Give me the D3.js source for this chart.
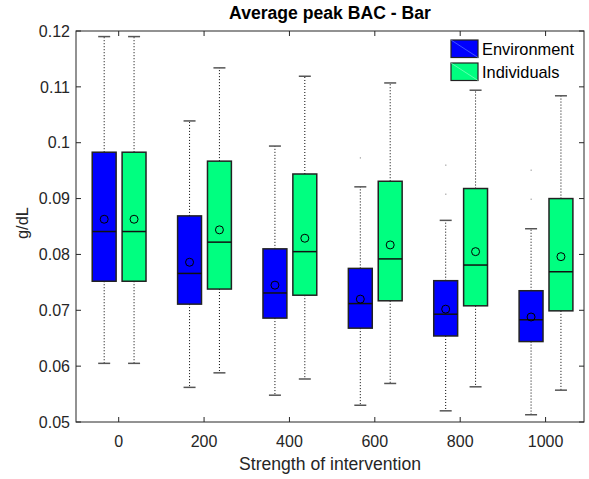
<!DOCTYPE html>
<html>
<head>
<meta charset="utf-8">
<script src="https://cdn.jsdelivr.net/npm/d3@7"></script>
<style>
  body { margin: 0; background: #fff; }
  text { font-family: "Liberation Sans", Arial, sans-serif; }
</style>
</head>
<body>
<svg id="chart" width="589" height="479"></svg>
<script>
// strength of intervention
const strengths = [0, 200, 400, 600, 800, 1000];
const seriesNames = ["Environment", "Individuals"];
const seriesColors = ["#0000ff", "#00ff80"];

// box stats per strength: [lowWhisker, q1, median, q3, highWhisker]
const envStats = [
  [0.0605, 0.0752, 0.0841, 0.0983, 0.1190],
  [0.0562, 0.0711, 0.0766, 0.0869, 0.1039],
  [0.0548, 0.0686, 0.0731, 0.0810, 0.0994],
  [0.0530, 0.0668, 0.0712, 0.0775, 0.0921],
  [0.0520, 0.0654, 0.0693, 0.0753, 0.0861],
  [0.0513, 0.0644, 0.0683, 0.0735, 0.0846]
];
const indStats = [
  [0.0605, 0.0752, 0.0841, 0.0983, 0.1190],
  [0.0588, 0.0738, 0.0822, 0.0967, 0.1134],
  [0.0577, 0.0727, 0.0805, 0.0944, 0.1119],
  [0.0569, 0.0717, 0.0792, 0.0931, 0.1107],
  [0.0563, 0.0708, 0.0781, 0.0918, 0.1094],
  [0.0557, 0.0699, 0.0769, 0.0900, 0.1084]
];
const envMeans = [0.0863, 0.0786, 0.0745, 0.0720, 0.0702, 0.0688];
const indMeans = [0.0863, 0.0844, 0.0829, 0.0817, 0.0805, 0.0796];
const envOutliers = [[], [], [], [0.0973], [0.0960, 0.0908], [0.0951, 0.0899]];
const indOutliers = [[], [], [], [], [], []];

const yTicks = [0.05, 0.06, 0.07, 0.08, 0.09, 0.1, 0.11, 0.12];

const svg = d3.select("#chart");
const mLeft = 76, mRight = 584, mTop = 31, mBottom = 422;
const axisColor = "#262626";

const x = d3.scaleLinear().domain([-100, 1090]).range([mLeft, mRight]);
const y = d3.scaleLinear().domain([0.05, 0.12]).range([mBottom, mTop]);

const groups = [
  { name: seriesNames[0], color: seriesColors[0], stats: envStats, means: envMeans, outliers: envOutliers, offset: -34 },
  { name: seriesNames[1], color: seriesColors[1], stats: indStats, means: indMeans, outliers: indOutliers, offset: 36 }
];
const boxW = 56; // in data units

// axes frame
svg.append("rect")
  .attr("x", mLeft).attr("y", mTop)
  .attr("width", mRight - mLeft).attr("height", mBottom - mTop)
  .attr("fill", "none").attr("stroke", axisColor).attr("stroke-width", 1);

// boxes
groups.forEach(g => {
  const layer = svg.append("g");
  strengths.forEach((s, i) => {
    const st = g.stats[i];
    const cx = x(s + g.offset);
    const x0 = x(s + g.offset - boxW / 2), x1 = x(s + g.offset + boxW / 2);
    const capW = 12;
    // whiskers
    layer.append("line")
      .attr("x1", cx).attr("x2", cx).attr("y1", y(st[3])).attr("y2", y(st[4]))
      .attr("stroke", "#000").attr("stroke-width", 1).attr("stroke-dasharray", "1,2");
    layer.append("line")
      .attr("x1", cx).attr("x2", cx).attr("y1", y(st[1])).attr("y2", y(st[0]))
      .attr("stroke", "#000").attr("stroke-width", 1).attr("stroke-dasharray", "1,2");
    [st[0], st[4]].forEach(v => {
      layer.append("line")
        .attr("x1", cx - capW / 2).attr("x2", cx + capW / 2)
        .attr("y1", y(v)).attr("y2", y(v))
        .attr("stroke", "#555").attr("stroke-width", 1.5);
    });
    // box
    layer.append("rect")
      .attr("x", x0).attr("y", y(st[3]))
      .attr("width", x1 - x0).attr("height", y(st[1]) - y(st[3]))
      .attr("fill", g.color).attr("stroke", "#222").attr("stroke-width", 1.5);
    // median
    layer.append("line")
      .attr("x1", x0).attr("x2", x1).attr("y1", y(st[2])).attr("y2", y(st[2]))
      .attr("stroke", "#111").attr("stroke-width", 1.5);
    // mean
    layer.append("circle")
      .attr("cx", cx).attr("cy", y(g.means[i])).attr("r", 4)
      .attr("fill", "none").attr("stroke", "#000").attr("stroke-width", 1);
    // outliers
    g.outliers[i].forEach(v => {
      layer.append("rect")
        .attr("x", cx - 0.5).attr("y", y(v) - 0.5).attr("width", 1.2).attr("height", 1.2)
        .attr("fill", "#999");
    });
  });
});

// ticks (inward, all four sides)
const tl = 5;
strengths.forEach(s => {
  svg.append("line").attr("x1", x(s)).attr("x2", x(s)).attr("y1", mBottom).attr("y2", mBottom - tl)
    .attr("stroke", axisColor);
  svg.append("line").attr("x1", x(s)).attr("x2", x(s)).attr("y1", mTop).attr("y2", mTop + tl)
    .attr("stroke", axisColor);
  svg.append("text").attr("x", x(s)).attr("y", 446.5)
    .attr("text-anchor", "middle").attr("font-size", 16).attr("fill", axisColor)
    .text(s);
});
yTicks.forEach(v => {
  svg.append("line").attr("x1", mLeft).attr("x2", mLeft + tl).attr("y1", y(v)).attr("y2", y(v))
    .attr("stroke", axisColor);
  svg.append("line").attr("x1", mRight).attr("x2", mRight - tl).attr("y1", y(v)).attr("y2", y(v))
    .attr("stroke", axisColor);
  svg.append("text").attr("x", 70).attr("y", y(v) + 5.7)
    .attr("text-anchor", "end").attr("font-size", 16).attr("fill", axisColor)
    .text(d3.format("~g")(v));
});

// labels
svg.append("text").attr("x", (mLeft + mRight) / 2).attr("y", 19)
  .attr("text-anchor", "middle").attr("font-size", 17.6).attr("font-weight", "bold")
  .attr("fill", "#000").text("Average peak BAC - Bar");
svg.append("text").attr("x", (mLeft + mRight) / 2).attr("y", 470)
  .attr("text-anchor", "middle").attr("font-size", 17.6).attr("fill", axisColor)
  .text("Strength of intervention");
svg.append("text").attr("transform", "translate(28,223) rotate(-90)")
  .attr("text-anchor", "middle").attr("font-size", 16.5).attr("fill", axisColor)
  .text("g/dL");

// legend
const legend = svg.append("g").attr("transform", "translate(451,40)");
seriesNames.forEach((n, i) => {
  const gy = i * 23;
  legend.append("rect").attr("x", 0).attr("y", gy).attr("width", 27).attr("height", 17.5)
    .attr("fill", seriesColors[i]).attr("stroke", "#222").attr("stroke-width", 1.2);
  legend.append("line").attr("x1", 0).attr("y1", gy).attr("x2", 27).attr("y2", gy + 17.5)
    .attr("stroke", i === 0 ? "#6a8cff" : "#9fffcf").attr("stroke-width", 0.6);
  legend.append("text").attr("x", 31).attr("y", gy + 14.5)
    .attr("font-size", 16.4).attr("fill", "#000").text(n);
});
</script>
</body>
</html>
